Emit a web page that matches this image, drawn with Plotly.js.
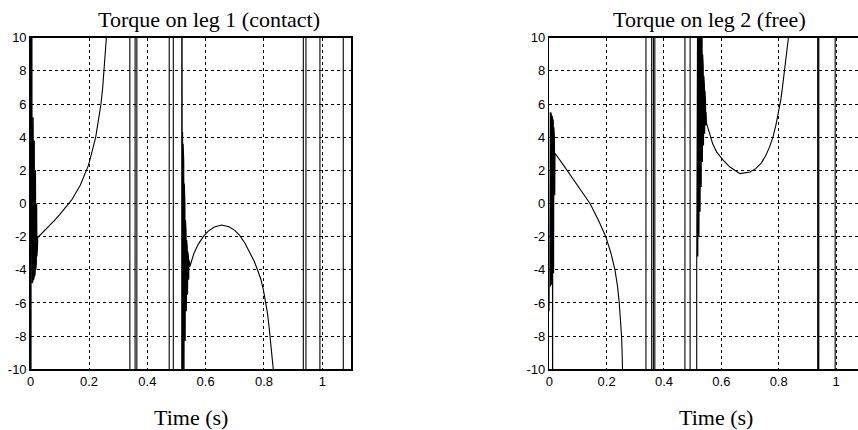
<!DOCTYPE html>
<html>
<head>
<meta charset="utf-8">
<script src="https://cdn.plot.ly/plotly-3.0.1.min.js"></script>
<style>
html, body { margin: 0; padding: 0; background: #fff; overflow: hidden; }
#chart { width: 858px; height: 430px; }
</style>
</head>
<body>
<div id="chart"></div>
<script>
// ---- Data (time in s, torque values; +/-50 = off-scale jumps) ----
var titleLeg1 = "Torque on leg 1 (contact)";
var titleLeg2 = "Torque on leg 2 (free)";
var xAxisLabel = "Time (s)";

var xTickVals = [0, 0.2, 0.4, 0.6, 0.8, 1];
var xTickText = ["0", "0.2", "0.4", "0.6", "0.8", "1"];
var yTickVals = [-10, -8, -6, -4, -2, 0, 2, 4, 6, 8, 10];
var yTickText = ["-10", "-8", "-6", "-4", "-2", "0", "2", "4", "6", "8", "10"];

var timeLeg1 = [
  0, 0.003, 0.0045, 0.0055, 0.0065, 0.0075, 0.0085, 0.0095, 0.0105, 0.0115, 0.0125, 0.0135,
  0.0145, 0.0155, 0.0165, 0.0175, 0.0185, 0.0195, 0.0205, 0.0215, 0.0225, 0.0235, 0.024,
  0.05, 0.08, 0.10, 0.112, 0.14, 0.17, 0.198, 0.21, 0.223, 0.232, 0.241, 0.247, 0.252, 0.258, 0.263, 0.27, 0.28,
  0.340, 0.3402, 0.358, 0.3582, 0.364, 0.3642, 0.475, 0.4752, 0.489, 0.4892, 0.518, 0.5182,
  0.519, 0.520, 0.521, 0.522, 0.523, 0.524, 0.525, 0.526, 0.527, 0.528, 0.529, 0.530, 0.531, 0.532,
  0.533, 0.534, 0.535, 0.536, 0.537, 0.538, 0.539, 0.540, 0.541, 0.542, 0.543, 0.544, 0.545, 0.546,
  0.553, 0.56, 0.575, 0.592, 0.61, 0.63, 0.655, 0.68, 0.70, 0.718, 0.735, 0.752, 0.767, 0.78, 0.79,
  0.798, 0.805, 0.812, 0.818, 0.824, 0.829, 0.832, 0.84, 0.85,
  0.935, 0.9352, 0.944, 0.9442, 0.992, 0.9922, 1.072, 1.0722, 1.1
];
var torqueLeg1 = [
  -50, 50, 5.6, -4.8, 5.5, -4.7, 5.2, -4.6, 4.6, -4.5, 3.8, -4.4,
  3.0, -4.2, 2.0, -4.0, 1.0, -3.6, 0.0, -3.2, -1.0, -2.6, -2.05,
  -1.6, -1.05, -0.65, -0.39, 0.2, 1.1, 2.3, 3.1, 4.0, 5.0, 6.0, 7.0, 8.0, 9.0, 10.0, 12.5, 50,
  50, -50, -50, 50, 50, -50, -50, 50, 50, -50, -50, 50,
  4.6, -10.5, 4.3, -10.5, 3.6, -10.5, 2.5, -10, 1.2, -9, 0.0, -8.3, -1.0, -7.5,
  -1.7, -6.5, -2.2, -6.0, -2.6, -5.5, -2.9, -5.0, -3.2, -4.6, -3.4, -4.2, -3.6, -3.8,
  -3.4, -3.0, -2.45, -2.0, -1.65, -1.42, -1.3, -1.4, -1.62, -1.95, -2.4, -2.95, -3.5, -4.1, -4.6,
  -5.2, -5.8, -6.6, -7.5, -8.5, -9.4, -10.0, -13, -50,
  -50, 50, 50, -50, -50, 50, 50, -50, -50
];

var timeLeg2 = [
  0, 0.003, 0.004, 0.005, 0.006, 0.007, 0.008, 0.009, 0.010, 0.011, 0.0115, 0.012, 0.013, 0.014, 0.015,
  0.016, 0.017, 0.018, 0.019, 0.02,
  0.05, 0.084, 0.11, 0.142, 0.171, 0.197, 0.215, 0.229, 0.238, 0.244, 0.249, 0.252, 0.254, 0.256, 0.258, 0.265,
  0.337, 0.3372, 0.357, 0.3572, 0.363, 0.3632, 0.368, 0.3682, 0.473, 0.4732, 0.491, 0.4912, 0.514, 0.5142,
  0.515, 0.516, 0.517, 0.518, 0.519, 0.520, 0.521, 0.522, 0.523, 0.524, 0.525, 0.526, 0.527, 0.528,
  0.529, 0.530, 0.531, 0.532, 0.533, 0.534, 0.535, 0.536, 0.537, 0.538, 0.539, 0.540, 0.541, 0.542,
  0.543, 0.544, 0.545, 0.546, 0.547, 0.548, 0.549,
  0.56, 0.57, 0.584, 0.607, 0.63, 0.665, 0.70, 0.72, 0.74, 0.755, 0.768, 0.78, 0.79, 0.80, 0.808,
  0.816, 0.825, 0.834, 0.84, 0.85,
  0.936, 0.9362, 0.940, 0.9402, 0.997, 0.9972, 1.08
];
var torqueLeg2 = [
  -6.5, 5.5, -5.0, 5.5, -4.9, 5.4, -4.9, 5.3, -4.8, 5.2, -30, 5.1, -4.6, 5.0, -4.2,
  4.6, -3.0, 4.0, 0.5, 3.03,
  2.3, 1.42, 0.8, 0.0, -1.0, -2.0, -3.0, -4.0, -5.0, -6.0, -7.0, -8.0, -9.0, -10, -12, -50,
  -50, 50, 50, -50, -50, 50, 50, -50, -50, 50, 50, -50, -50, -3.6,
  6, -3.6, 10.5, -3.2, 12, -2.7, 12, -2.0, 12, -1.3, 12, -0.5, 12, 0.3,
  12, 1.0, 12, 1.8, 11, 2.5, 9, 3.0, 8.3, 3.5, 7.7, 3.9, 7.2, 4.2,
  6.8, 4.5, 6.2, 4.7, 5.5, 4.9, 4.8,
  4.2, 3.6, 3.1, 2.6, 2.2, 1.8, 1.9, 2.1, 2.45, 2.9, 3.4, 4.0, 4.7, 5.5, 6.3,
  7.4, 8.7, 10, 12, 50,
  50, -50, -50, 50, 50, -50, -50
];

// ---- Styling ----
var W = 858, H = 430;
var serif = "Liberation Serif, Times New Roman, serif";
var sans = "Liberation Sans, Arial, sans-serif";

function xAxis(domain, range) {
  return {
    domain: domain, range: range, autorange: false,
    tickvals: xTickVals, ticktext: xTickText, ticks: "",
    showgrid: true, gridcolor: "#000", gridwidth: 1, griddash: "3px,3px",
    zeroline: false, showline: true, linecolor: "#000", linewidth: 1.5, mirror: true,
    tickfont: {family: sans, size: 13, color: "#000"}, fixedrange: true
  };
}
function yAxis(anchor, mirror) {
  return {
    domain: [1 - 369.3 / H, 1 - 37.7 / H], range: [-10, 10], autorange: false, anchor: anchor,
    tickvals: yTickVals, ticktext: yTickText, ticks: "",
    showgrid: true, gridcolor: "#000", gridwidth: 1, griddash: "3px,3px",
    zeroline: false, showline: true, linecolor: "#000", linewidth: 1.5, mirror: mirror,
    tickfont: {family: sans, size: 13, color: "#000"}, fixedrange: true
  };
}

var traces = [
  {x: timeLeg1, y: torqueLeg1, xaxis: "x", yaxis: "y", mode: "lines",
   line: {color: "#000", width: 1.1}, hoverinfo: "skip", showlegend: false},
  {x: timeLeg2, y: torqueLeg2, xaxis: "x2", yaxis: "y2", mode: "lines",
   line: {color: "#000", width: 1.1}, hoverinfo: "skip", showlegend: false}
];

var xr2 = (W - 549.3) / 286.7;
var layout = {
  width: W, height: H,
  margin: {l: 0, r: 0, t: 0, b: 0, pad: 0},
  paper_bgcolor: "#fff", plot_bgcolor: "#fff",
  showlegend: false,
  xaxis: Object.assign(xAxis([30.7 / W, 351.4 / W], [0, 1.1]), {anchor: "y"}),
  yaxis: yAxis("x", true),
  xaxis2: Object.assign(xAxis([549.3 / W, 1], [0, xr2]), {anchor: "y2"}),
  yaxis2: yAxis("x2", false),
  annotations: [
    {text: titleLeg1, xref: "paper", yref: "paper", x: 209 / W, y: 1 - 19 / H,
     xanchor: "center", yanchor: "middle", showarrow: false, font: {family: serif, size: 22, color: "#000"}},
    {text: titleLeg2, xref: "paper", yref: "paper", x: 709 / W, y: 1 - 19 / H,
     xanchor: "center", yanchor: "middle", showarrow: false, font: {family: serif, size: 22, color: "#000"}},
    {text: xAxisLabel, xref: "paper", yref: "paper", x: 191 / W, y: 1 - 417 / H,
     xanchor: "center", yanchor: "middle", showarrow: false, font: {family: serif, size: 22, color: "#000"}},
    {text: xAxisLabel, xref: "paper", yref: "paper", x: 716 / W, y: 1 - 417 / H,
     xanchor: "center", yanchor: "middle", showarrow: false, font: {family: serif, size: 22, color: "#000"}}
  ]
};

Plotly.newPlot("chart", traces, layout, {displayModeBar: false, staticPlot: true});
</script>
</body>
</html>
